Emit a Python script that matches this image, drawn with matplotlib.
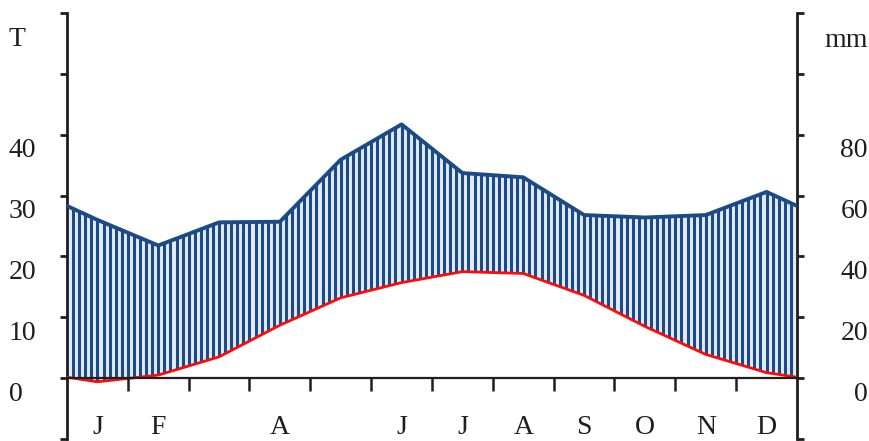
import matplotlib
matplotlib.use("Agg")
import matplotlib.pyplot as plt
import numpy as np
from matplotlib.transforms import blended_transform_factory, offset_copy

# monthly climate values
month_labels = ["J", "F", "", "A", "", "J", "J", "A", "S", "O", "N", "D"]
temp_c = [-0.6, 0.5, 3.5, 8.7, 13.2, 15.7, 17.5, 17.2, 13.6, 8.5, 3.9, 0.9]
precip_mm = [52, 43.6, 51.2, 51.4, 71.8, 83.4, 67.4, 66, 53.6, 52.8, 53.6, 61.2]
temp_ticks = [0, 10, 20, 30, 40]
precip_ticks = [0, 20, 40, 60, 80]

INK = "#1e1e1e"
NAVY = "#1b4a86"
FS = 20
plt.rcParams["font.family"] = ["Liberation Serif", "DejaVu Serif"]

fig = plt.figure(figsize=(8.7, 4.41), dpi=100)
ax = fig.add_axes([67 / 870, 2 / 441, 730 / 870, 426 / 441])
ax.set_xlim(0, 12)
ax.set_ylim(-10, 60)

# curves at month centres, closed at the year edges by wrapping Dec -> Jan
t = np.array(temp_c)
p = np.array(precip_mm) / 2.0  # precipitation shares the axis at 2 mm per degree
x = np.concatenate([[0], np.arange(12) + 0.5, [12]])
t_full = np.concatenate([[(t[0] + t[-1]) / 2], t, [(t[0] + t[-1]) / 2]])
p_full = np.concatenate([[(p[0] + p[-1]) / 2], p, [(p[0] + p[-1]) / 2]])

poly = ax.fill_between(x, t_full, p_full, facecolor="#e2ebf6", edgecolor="none", zorder=1)
stripes = ax.vlines(np.arange(1, 120) * 0.1, -10, 60, colors=NAVY, linewidth=2.2, zorder=2)
stripes.set_clip_path(poly.get_paths()[0], ax.transData)

ax.plot(x, p_full, color=NAVY, linewidth=2.8, solid_joinstyle="round", zorder=3)
ax.plot(x, t_full, color="#ff0a0a", linewidth=2.0, zorder=4)

# zero line with month ticks hanging below
ax.axhline(0, color=INK, linewidth=1.6, zorder=5)
ax.vlines(np.arange(1, 12), 0, -2.1, colors=INK, linewidth=1.8, zorder=5)
for i, lab in enumerate(month_labels):
    ax.text(i + 0.5, -8.1, lab, ha="center", va="center", fontsize=FS, color=INK)

# spines
for s in ["top", "bottom"]:
    ax.spines[s].set_visible(False)
for s in ["left", "right"]:
    ax.spines[s].set_linewidth(2.0)
    ax.spines[s].set_color(INK)
ax.set_xticks([])
ax.set_yticks(np.arange(-10, 61, 10))
ax.tick_params(axis="y", left=True, right=False, direction="out",
               length=5, width=2, color=INK, labelleft=False, labelright=False)
# right side ticks on a twin axis (mm scale)
ax2 = ax.twinx()
ax2.set_ylim(-20, 120)
ax2.set_yticks(np.arange(-20, 121, 20))
ax2.tick_params(axis="y", direction="out", length=5, width=2, color=INK, labelright=False)
for s in ax2.spines.values():
    s.set_visible(False)

# tick labels sit a little below their ticks
left_tr = offset_copy(blended_transform_factory(fig.transFigure, ax.transData),
                      fig=fig, y=-16, units="dots")
right_tr = offset_copy(blended_transform_factory(fig.transFigure, ax2.transData),
                       fig=fig, y=-16, units="dots")
for v in temp_ticks:
    ax.text(9 / 870, v, str(v), transform=left_tr, ha="left", va="center",
            fontsize=FS, color=INK)
for v in precip_ticks:
    ax2.text(868 / 870, v, str(v), transform=right_tr, ha="right", va="center",
             fontsize=FS, color=INK)

fig.text(9 / 870, 1 - 39 / 441, "T", ha="left", va="center", fontsize=FS, color=INK)
fig.text(868 / 870, 1 - 47 / 441, "mm", ha="right", va="baseline", fontsize=FS, color=INK)

fig.savefig("out.png", dpi=100)
